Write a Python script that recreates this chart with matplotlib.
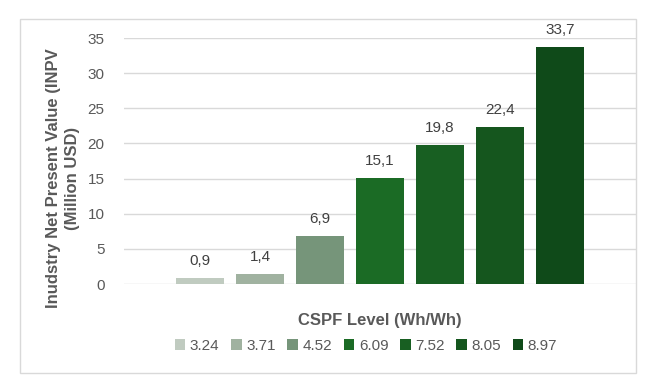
import matplotlib.pyplot as plt
from matplotlib.patches import Rectangle
import numpy as np

levels = ["3.24", "3.71", "4.52", "6.09", "7.52", "8.05", "8.97"]
inpv = [0.9, 1.4, 6.9, 15.1, 19.8, 22.4, 33.7]
colors = ["#c0cbc0", "#a0b2a0", "#76957a", "#1b6b25", "#185f22", "#15561e", "#0f4a19"]

plt.rcParams["font.family"] = ["Liberation Sans", "DejaVu Sans"]

fig = plt.figure(figsize=(6.7, 3.91), dpi=100)
fig.patches.append(Rectangle((20 / 670, 1 - 373 / 391), 636 / 670 - 20 / 670, (373 - 19) / 391,
                             transform=fig.transFigure, fill=False, edgecolor="#d9d9d9", lw=1))
ax = fig.add_axes([124 / 670, 1 - 284 / 391, 512 / 670, (284 - 38) / 391])

x = np.arange(len(levels)) - (len(levels) - 1) / 2
for xi, v, c, lab in zip(x, inpv, colors, levels):
    ax.bar(xi, v, width=0.8, color=c, label=lab, zorder=2)
    ax.text(xi, v + 1.4, f"{v:.1f}".replace(".", ","), ha="center", va="bottom",
            fontsize=11, color="#404040")

ax.set_xlim(-4.27, 4.27)
ax.set_ylim(0, 35)
ax.set_yticks(range(0, 36, 5))
ax.set_xticks([])
ax.grid(axis="y", color="#d9d9d9", lw=1, zorder=0)
for s in ax.spines.values():
    s.set_visible(False)
ax.tick_params(axis="y", length=0, labelsize=11, labelcolor="#595959", pad=14)

fig.text(63 / 670, 1 - 178 / 391, "Inudstry Net Present Value (INPV\n(Million USD)", rotation=90,
         ha="center", va="center", fontsize=12, fontweight="bold", color="#595959",
         linespacing=1.25)
fig.text(380 / 670, 1 - 320 / 391, "CSPF Level (Wh/Wh)", ha="center", va="center",
         fontsize=12, fontweight="bold", color="#595959")

leg = fig.legend(loc="center", bbox_to_anchor=(366 / 670, 1 - 346 / 391), ncol=7, frameon=False,
                 fontsize=11, handlelength=0.7, handleheight=0.7, handletextpad=0.3,
                 columnspacing=0.75, labelcolor="#595959")

fig.savefig("out.png", dpi=100)
